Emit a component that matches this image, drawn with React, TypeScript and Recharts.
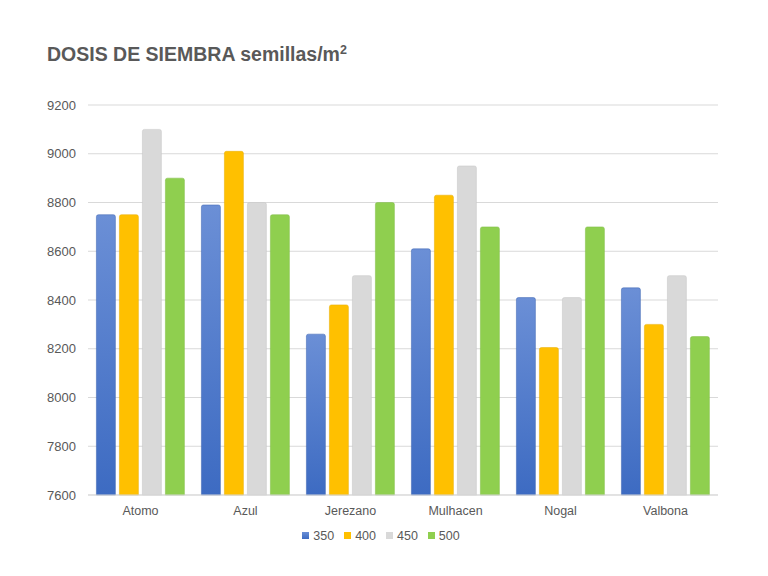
import { BarChart, Bar, XAxis, YAxis, CartesianGrid, Legend } from 'recharts';

const VARIETIES = ['Atomo', 'Azul', 'Jerezano', 'Mulhacen', 'Nogal', 'Valbona'];
const DOSIS_350 = [8750, 8790, 8260, 8610, 8410, 8450];
const DOSIS_400 = [8750, 9010, 8380, 8830, 8205, 8300];
const DOSIS_450 = [9100, 8800, 8500, 8950, 8410, 8500];
const DOSIS_500 = [8900, 8750, 8800, 8700, 8700, 8250];
const Y_TICKS = [7600, 7800, 8000, 8200, 8400, 8600, 8800, 9000, 9200];

const data = VARIETIES.map((name, i) => ({
  name,
  d350: DOSIS_350[i],
  d400: DOSIS_400[i],
  d450: DOSIS_450[i],
  d500: DOSIS_500[i],
}));

const TEXT = '#595959';
const FONT = '"Liberation Sans", Arial, sans-serif';

export default function App() {
  return (
    <div style={{ position: 'absolute', left: 0, top: 0, fontFamily: FONT }}>
      <BarChart
        width={768}
        height={576}
        data={data}
        margin={{ top: 105, right: 50, bottom: 30, left: 0 }}
        barCategoryGap='8%'
        barGap={4}
      >
        <defs>
          <linearGradient id='blueGrad' x1='0' y1='0' x2='0' y2='1'>
            <stop offset='0%' stopColor='#6b8fd6' />
            <stop offset='100%' stopColor='#3d6bc2' />
          </linearGradient>
        </defs>
        <text x={47} y={61} fill={TEXT} fontSize={19.5} fontWeight='bold' fontFamily={FONT}>
          DOSIS DE SIEMBRA semillas/m
          <tspan fontSize={12.5} dy={-7}>
            2
          </tspan>
        </text>
        <CartesianGrid vertical={false} stroke='#d9d9d9' />
        <XAxis
          dataKey='name'
          axisLine={{ stroke: '#d9d9d9' }}
          tickLine={false}
          tickSize={0}
          tickMargin={11}
          height={27}
          tick={{ fill: TEXT, fontSize: 12.5, fontFamily: FONT }}
        />
        <YAxis
          domain={[7600, 9200]}
          ticks={Y_TICKS}
          axisLine={false}
          tickLine={false}
          tickSize={0}
          tickMargin={12}
          width={88}
          tick={{ fill: TEXT, fontSize: 13, fontFamily: FONT }}
        />
        <Legend
          iconType='square'
          iconSize={7}
          height={24}
          wrapperStyle={{ left: 0, width: 772, bottom: 26 }}
          formatter={(value) => <span style={{ color: TEXT, fontSize: 12.5 }}>{value}</span>}
        />
        <Bar dataKey='d350' name='350' fill='url(#blueGrad)' stroke='#3a62b0' strokeWidth={0.5} radius={[2, 2, 0, 0]} isAnimationActive={false} />
        <Bar dataKey='d400' name='400' fill='#ffc000' stroke='#e6ad00' strokeWidth={0.5} radius={[2, 2, 0, 0]} isAnimationActive={false} />
        <Bar dataKey='d450' name='450' fill='#d9d9d9' stroke='#c4c4c4' strokeWidth={0.5} radius={[2, 2, 0, 0]} isAnimationActive={false} />
        <Bar dataKey='d500' name='500' fill='#8fcf4f' stroke='#7fbb44' strokeWidth={0.5} radius={[2, 2, 0, 0]} isAnimationActive={false} />
      </BarChart>
    </div>
  );
}
